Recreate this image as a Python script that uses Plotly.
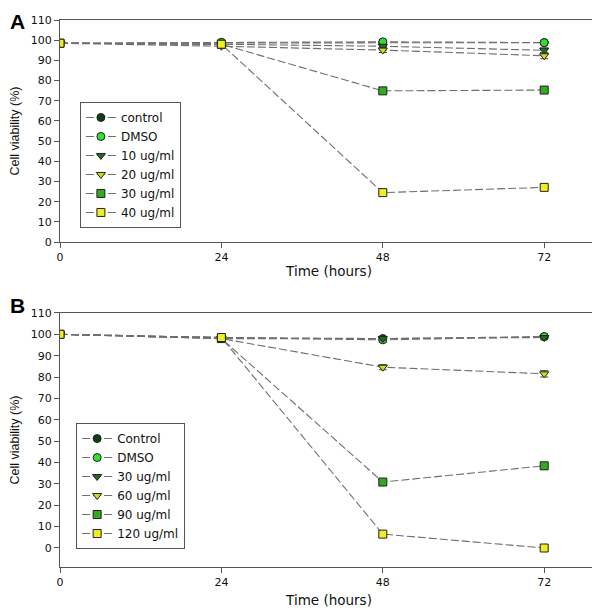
import plotly.graph_objects as go

time_hours = [0, 24, 48, 72]
x_ticks = [0, 24, 48, 72]
y_ticks = [0, 10, 20, 30, 40, 50, 60, 70, 80, 90, 100, 110]

# Panel A
names_a = ["control", "DMSO", "10 ug/ml", "20 ug/ml", "30 ug/ml", "40 ug/ml"]
control_a = [98.5, 98.5, 98.8, 98.8]
dmso_a = [98.5, 99.0, 99.2, 98.8]
c10_a = [98.5, 98.0, 97.0, 95.0]
c20_a = [98.5, 97.0, 95.1, 92.3]
c30_a = [98.5, 98.0, 74.9, 75.3]
c40_a = [98.5, 98.0, 24.5, 27.1]
err_a = [
    [0.5, 0.5, 0.5, 0.5],
    [0.5, 0.5, 0.8, 0.5],
    [0.5, 0.5, 0.8, 1.2],
    [0.5, 0.5, 1.2, 1.5],
    [0.5, 0.5, 0.8, 0.8],
    [0.5, 0.5, 0.8, 0.8],
]

# Panel B
names_b = ["Control", "DMSO", "30 ug/ml", "60 ug/ml", "90 ug/ml", "120 ug/ml"]
control_b = [100.0, 98.5, 98.0, 98.9]
dmso_b = [100.0, 98.5, 97.4, 98.9]
c30_b = [100.0, 98.0, 98.0, 98.5]
c60_b = [100.0, 98.0, 84.6, 81.5]
c90_b = [100.0, 98.0, 30.8, 38.4]
c120_b = [100.0, 98.5, 6.4, -0.1]
err_b = [
    [0.3, 0.5, 1.0, 0.8],
    [0.3, 0.5, 1.0, 0.8],
    [0.3, 0.5, 0.8, 0.8],
    [0.3, 0.5, 1.2, 1.5],
    [0.3, 0.5, 1.2, 1.5],
    [0.3, 0.5, 1.0, 0.8],
]

colors = ["#0f3f10", "#33dd33", "#1f6b1f", "#ccdd11", "#33aa22", "#eeee22"]
symbols = ["circle", "circle", "triangle-down", "triangle-down", "square", "square"]

FONT = "Liberation Sans, Arial, sans-serif"
WIDE = "DejaVu Sans, Verdana, sans-serif"

fig = go.Figure()

series_a = [control_a, dmso_a, c10_a, c20_a, c30_a, c40_a]
series_b = [control_b, dmso_b, c30_b, c60_b, c90_b, c120_b]

for i, (nm, ys) in enumerate(zip(names_a, series_a)):
    fig.add_trace(go.Scatter(
        x=time_hours, y=ys, name=nm, mode="lines+markers",
        xaxis="x", yaxis="y", legend="legend",
        line=dict(color="#6e6e6e", width=1.1, dash="8px,3px"),
        marker=dict(symbol=symbols[i], size=8, color=colors[i],
                    line=dict(color="#222222", width=1)),
        error_y=dict(type="data", array=err_a[i], color="#444444", thickness=1, width=4),
    ))

for i, (nm, ys) in enumerate(zip(names_b, series_b)):
    fig.add_trace(go.Scatter(
        x=time_hours, y=ys, name=nm, mode="lines+markers",
        xaxis="x2", yaxis="y2", legend="legend2",
        line=dict(color="#6e6e6e", width=1.1, dash="8px,3px"),
        marker=dict(symbol=symbols[i], size=8, color=colors[i],
                    line=dict(color="#222222", width=1)),
        error_y=dict(type="data", array=err_b[i], color="#444444", thickness=1, width=4),
    ))

axis_common = dict(
    showline=True, linecolor="#555555", linewidth=1, mirror=True,
    ticks="outside", ticklen=5, tickcolor="#555555",
    showgrid=False, zeroline=False,
    tickfont=dict(family=WIDE, size=11, color="#111111"),
)

ytitle_font = dict(size=12.5, family=FONT, color="#111111")
xtitle_font = dict(size=13.5, family=WIDE, color="#111111")

fig.update_layout(
    width=592, height=604,
    margin=dict(l=52, r=2, t=12, b=45),
    paper_bgcolor="white", plot_bgcolor="white",
    font=dict(family=FONT, color="#111111"),
    xaxis=dict(domain=[0, 1], anchor="y", range=[0, 80], tickvals=x_ticks,
               title=dict(text="Time (hours)", font=xtitle_font, standoff=3),
               **axis_common),
    yaxis=dict(domain=[0.594, 1.0], anchor="x", range=[0, 110], tickvals=y_ticks,
               title=dict(text="Cell viability (%)", font=ytitle_font, standoff=8),
               **axis_common),
    xaxis2=dict(domain=[0, 1], anchor="y2", range=[0, 80], tickvals=x_ticks,
                title=dict(text="Time (hours)", font=xtitle_font, standoff=7),
                **axis_common),
    yaxis2=dict(domain=[0, 0.4644], anchor="x2", range=[-9, 110], tickvals=y_ticks,
                title=dict(text="Cell viability (%)", font=ytitle_font, standoff=8),
                **axis_common),
    legend=dict(x=0.037, y=0.735, xanchor="left", yanchor="middle",
                bordercolor="#555555", borderwidth=1, bgcolor="white",
                font=dict(size=12, family=WIDE), tracegroupgap=0,
                itemwidth=30),
    legend2=dict(x=0.030, y=0.148, xanchor="left", yanchor="middle",
                 bordercolor="#555555", borderwidth=1, bgcolor="white",
                 font=dict(size=12, family=WIDE), tracegroupgap=0,
                 itemwidth=30),
    annotations=[
        dict(text="<b>A</b>", xref="paper", yref="paper", x=-0.0967, y=1.0219,
             xanchor="left", yanchor="top", showarrow=False,
             font=dict(size=21, family=FONT, color="black")),
        dict(text="<b>B</b>", xref="paper", yref="paper", x=-0.0967, y=0.5027,
             xanchor="left", yanchor="top", showarrow=False,
             font=dict(size=21, family=FONT, color="black")),
    ],
)

fig.write_html("out.html")
